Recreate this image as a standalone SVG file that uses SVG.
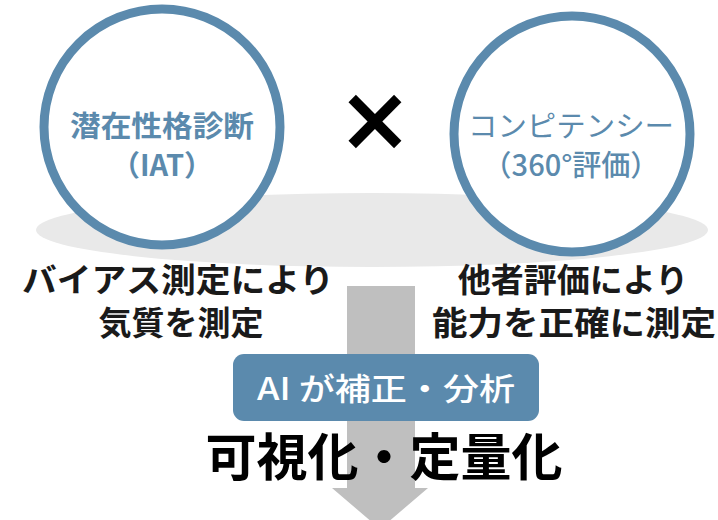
<svg xmlns="http://www.w3.org/2000/svg" width="718" height="520" viewBox="0 0 718 520">
<style>
.ring{fill:#ffffff;stroke:#5b8aad;stroke-width:9}
.ct{font-family:"Noto Sans CJK JP","Noto Sans",sans-serif;fill:#5b8aad;font-size:29px;text-anchor:middle}
.lb{font-family:"Noto Sans CJK JP","Noto Sans",sans-serif;fill:#1a1a1a;font-size:33px;font-weight:700;text-anchor:middle}
</style>
<rect width="718" height="520" fill="#ffffff"/>
<ellipse cx="372" cy="230" rx="336" ry="37" fill="#e9e9e9"/>
<g id="connectors">
<polygon points="347,286 415,286 415,488 428,488 380,529 332,488 347,488" fill="#bfbfbf"/>
</g>
<g id="iat">
<circle class="ring" cx="162" cy="127" r="118"/>
<text class="ct" x="162" y="137" font-weight="700" textLength="184" lengthAdjust="spacingAndGlyphs">潜在性格診断</text>
<text class="ct" x="162" y="176" font-weight="700">（IAT）</text>
</g>
<g id="times">
<text x="375" y="150" font-family="DejaVu Sans,sans-serif" font-size="90" font-weight="700" text-anchor="middle" fill="#000000">×</text>
</g>
<g id="competency">
<circle class="ring" cx="572" cy="134" r="118"/>
<text class="ct" x="571" y="137" font-weight="400" textLength="206" lengthAdjust="spacingAndGlyphs">コンピテンシー</text>
<text class="ct" x="571" y="176" font-weight="500">（360°評価）</text>
</g>
<g id="left-label">
<text class="lb" x="178" y="292" textLength="312" lengthAdjust="spacingAndGlyphs">バイアス測定により</text>
<text class="lb" x="181" y="335">気質を測定</text>
</g>
<g id="right-label">
<text class="lb" x="573" y="292">他者評価により</text>
<text class="lb" x="574" y="335" textLength="284" lengthAdjust="spacingAndGlyphs">能力を正確に測定</text>
</g>
<g id="ai">
<rect x="233" y="354" width="306" height="67" rx="11" fill="#5b8aad"/>
<text x="386" y="400" font-family="'Noto Sans CJK JP','Noto Sans',sans-serif" font-size="31" font-weight="500" fill="#ffffff" text-anchor="middle" textLength="258" lengthAdjust="spacingAndGlyphs">AI が補正・分析</text>
</g>
<g id="result">
<text x="384" y="476" font-family="'Noto Sans CJK JP',sans-serif" font-size="51" font-weight="700" fill="#000000" text-anchor="middle">可視化・定量化</text>
</g>
</svg>
